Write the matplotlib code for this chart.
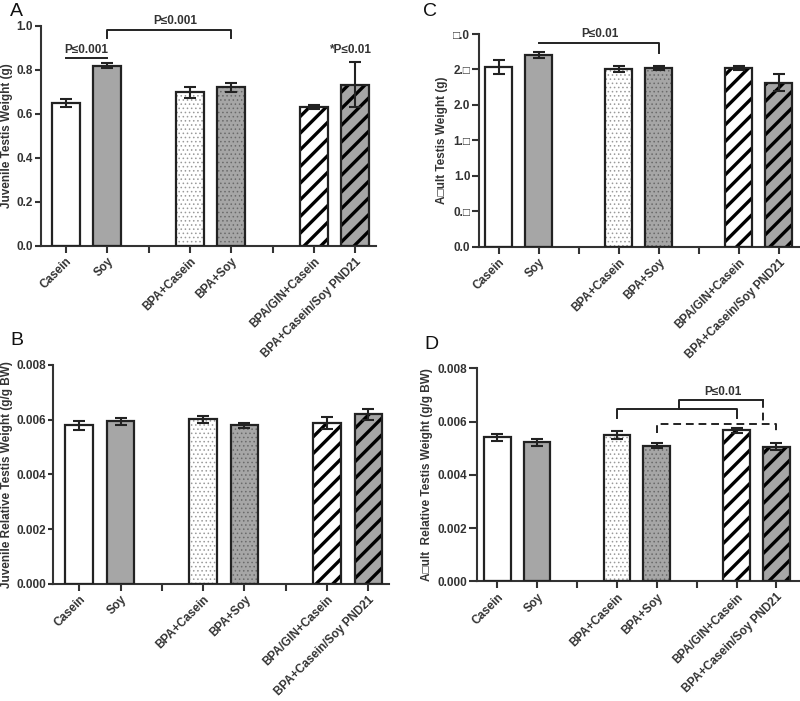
import matplotlib
matplotlib.use("Agg")
import matplotlib.pyplot as plt
import numpy as np

plt.rcParams['font.family'] = ['Liberation Sans', 'DejaVu Sans']

categories = ["Casein", "Soy", "BPA+Casein", "BPA+Soy", "BPA/GIN+Casein", "BPA+Casein/Soy PND21"]

juv_weight = [0.651, 0.820, 0.699, 0.721, 0.633, 0.733]
juv_weight_err = [0.018, 0.013, 0.024, 0.020, 0.010, 0.103]

juv_rel = [0.00579, 0.00594, 0.00601, 0.00579, 0.00588, 0.00619]
juv_rel_err = [0.00016, 0.00013, 0.00012, 0.00009, 0.00022, 0.00019]

adult_weight = [2.535, 2.70, 2.506, 2.525, 2.525, 2.31]
adult_weight_err = [0.097, 0.04, 0.04, 0.03, 0.03, 0.12]

adult_rel = [0.00541, 0.00522, 0.00549, 0.00509, 0.00567, 0.00506]
adult_rel_err = [0.00014, 0.000125, 0.00015, 0.00010, 0.00010, 0.00014]

C_ticks = [0.0, 0.5, 1.0, 1.5, 2.0, 2.5, 3.0]
C_ticklabels = ["0.0", "0.\u25a1", "1.0", "1.\u25a1", "2.0", "2.\u25a1", "\u25a1.0"]

GRAY = "#a6a6a6"
EDGE = "#222222"
TXT = "#333333"
styles = [
    dict(fc="white", hatch=None, hc=None),
    dict(fc=GRAY, hatch=None, hc=None),
    dict(fc="white", hatch="....", hc="#9a9a9a"),
    dict(fc=GRAY, hatch="....", hc="#6a6a6a"),
    dict(fc="white", hatch="//", hc="black"),
    dict(fc=GRAY, hatch="//", hc="black"),
]

# positions: two bars per group, with an empty slot between groups
xpos = np.array([i + i // 2 for i in range(len(categories))])
all_slots = np.arange(xpos.max() + 1)

W, H = 800, 701
fig = plt.figure(figsize=(8.0, 7.01), dpi=100)


def make_ax(l, r, t, b):
    return fig.add_axes([l / W, 1 - b / H, (r - l) / W, (b - t) / H])


def draw_panel(ax, box, vals, errs, xlim, ylim, yticks, yticklabels, ylabel, label_px, ticklen):
    for x, v, s in zip(xpos, vals, styles):
        if s["hatch"] is not None:
            lw_h = 2.4 if "/" in s["hatch"] else 0.6
            with plt.rc_context({'hatch.linewidth': lw_h}):
                ax.bar(x, v, width=0.67, color=s["fc"], edgecolor=s["hc"],
                       hatch=s["hatch"], linewidth=0, zorder=2)
        else:
            ax.bar(x, v, width=0.67, color=s["fc"], linewidth=0, zorder=2)
        ax.bar(x, v, width=0.67, fill=False, edgecolor=EDGE, linewidth=1.6, zorder=3)
    ax.errorbar(xpos, vals, yerr=errs, fmt="none", ecolor=EDGE, elinewidth=1.5,
                capsize=4, capthick=1.5, zorder=4)
    ax.set_xlim(*xlim)
    ax.set_ylim(*ylim)
    ax.set_yticks(yticks)
    ax.set_yticklabels(yticklabels, fontsize=8.5, fontweight="bold", color=TXT)
    ax.set_xticks(all_slots)
    labels = [""] * len(all_slots)
    for x, c in zip(xpos, categories):
        labels[x] = c
    ax.set_xticklabels(labels, rotation=45, ha="right", rotation_mode="anchor",
                       fontsize=8.5, fontweight="bold", color=TXT)
    ax.set_ylabel(ylabel, fontsize=8.5, fontweight="bold", color=TXT)
    l, r = box
    ax.yaxis.set_label_coords((label_px - l) / (r - l), 0.5)
    for sp in ["top", "right"]:
        ax.spines[sp].set_visible(False)
    for sp in ["left", "bottom"]:
        ax.spines[sp].set_linewidth(1.5)
        ax.spines[sp].set_color(TXT)
    ax.tick_params(axis="y", direction="out", length=ticklen, width=1.5, color=TXT, pad=1.5)
    ax.tick_params(axis="x", direction="out", length=5, width=1.5, color=TXT, pad=2)


# Panel A
axA = make_ax(40.7, 376, 26, 246)
draw_panel(axA, (40.7, 376), juv_weight, juv_weight_err, (-0.61, 7.5), (0, 1.0),
           [0.0, 0.2, 0.4, 0.6, 0.8, 1.0], ["0.0", "0.2", "0.4", "0.6", "0.8", "1.0"],
           "Juvenile Testis Weight (g)", 13, 4)
k = dict(color=EDGE, lw=1.4, clip_on=False, zorder=5)
axA.plot([xpos[0], xpos[1]], [0.855, 0.855], **k)
axA.text(0.5, 0.865, "P\u22640.001", ha="center", va="bottom", fontsize=8.5, fontweight="bold", color=TXT)
axA.plot([xpos[1], xpos[1], xpos[3], xpos[3]], [0.944, 0.983, 0.983, 0.944], **k)
axA.text(2.65, 0.995, "P\u22640.001", ha="center", va="bottom", fontsize=8.5, fontweight="bold", color=TXT, clip_on=False)
axA.text(6.9, 0.865, "*P\u22640.01", ha="center", va="bottom", fontsize=8.5, fontweight="bold", color=TXT)

# Panel B
axB = make_ax(53.3, 389, 364.7, 584)
draw_panel(axB, (53.3, 389), juv_rel, juv_rel_err, (-0.63, 7.5), (0, 0.008),
           [0, 0.002, 0.004, 0.006, 0.008], ["0.000", "0.002", "0.004", "0.006", "0.008"],
           "Juvenile Relative Testis Weight (g/g BW)", 13, 3.5)

# Panel C
axC = make_ax(479.3, 800, 34, 246.7)
draw_panel(axC, (479.3, 800), adult_weight, adult_weight_err, (-0.49, 7.53), (0, 3.0),
           C_ticks, C_ticklabels, "A\u25a1ult Testis Weight (g)", 448, 5)
axC.plot([xpos[1], xpos[3], xpos[3]], [2.873, 2.873, 2.73], **k)
axC.text(2.52, 2.92, "P\u22640.01", ha="center", va="bottom", fontsize=8.5, fontweight="bold", color=TXT, clip_on=False)

# Panel D
axD = make_ax(477.3, 800, 368.3, 581.3)
draw_panel(axD, (477.3, 800), adult_rel, adult_rel_err, (-0.5, 7.59), (0, 0.008),
           [0, 0.002, 0.004, 0.006, 0.008], ["0.000", "0.002", "0.004", "0.006", "0.008"],
           "A\u25a1ult  Relative Testis Weight (g/g BW)", 433, 6)
axD.plot([xpos[2], xpos[2], xpos[4], xpos[4]], [0.00612, 0.00648, 0.00648, 0.00612], **k)
kd = dict(color=EDGE, lw=1.4, ls=(0, (4, 2.5)), clip_on=False, zorder=5)
axD.plot([xpos[3], xpos[3], xpos[5], xpos[5]], [0.00556, 0.00591, 0.00591, 0.00556], **kd)
axD.plot([4.56, 4.56, 6.67], [0.00648, 0.00682, 0.00682], **k)
axD.plot([6.67, 6.67], [0.00682, 0.00591], **kd)
axD.text(5.66, 0.00690, "P\u22640.01", ha="center", va="bottom", fontsize=8.5, fontweight="bold", color=TXT)

# panel letters
for lab, x, y in [("A", 10, 3), ("B", 10, 332), ("C", 423, 3), ("D", 424, 336)]:
    fig.text(x / W, 1 - y / H, lab, fontsize=14, va="top", ha="left", color="#111111")

fig.savefig("out.png", dpi=100)
